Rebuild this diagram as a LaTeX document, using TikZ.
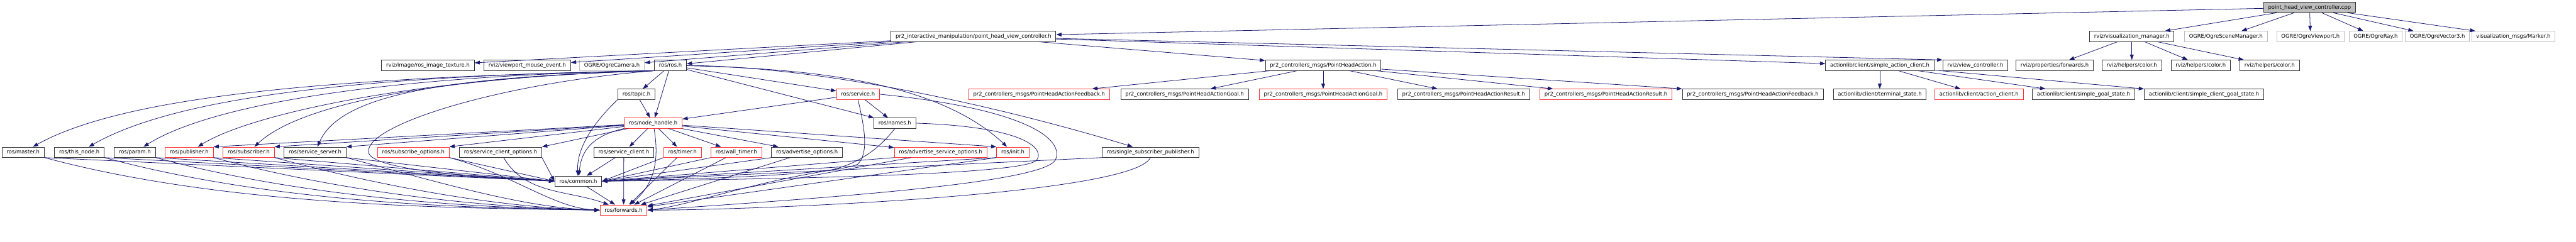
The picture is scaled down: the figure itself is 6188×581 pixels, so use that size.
\documentclass[tikz,border=0pt]{standalone}
\usepackage{fontspec}
\setmainfont{DejaVu Sans}
\usepackage{xcolor}
\usepackage{tikz}
\usetikzlibrary{arrows.meta}
\definecolor{EdgeC}{HTML}{191970}
\definecolor{BoxK}{HTML}{333333}
\definecolor{BoxR}{HTML}{FF3333}
\definecolor{BoxG}{HTML}{BFBFBF}

\begin{document}
\begin{tikzpicture}[x=1pt,y=1pt,font=\fontsize{12.7}{15}\selectfont,
  hd/.style={draw=BoxK,line width=1.5pt,fill=white,minimum height=24.5pt,
             inner xsep=11pt,inner ysep=0pt,text height=10.5pt,text depth=2pt},
  hdr/.style={hd,draw=BoxR},
  hdg/.style={hd,draw=BoxG},
  dep/.style={draw=EdgeC,line width=1.2pt,-{Triangle[length=12.7pt,width=9pt]}}]

\fill[white] (0,0) rectangle (6188,-581);
\useasboundingbox (0,0) rectangle (6188,-581);

% the source file
\node[hd,fill=BoxG] (root) at (5548,-17.8) {point\_head\_view\_controller.cpp};

% first level
\node[hd]  (pih)    at (2338.5,-87.5) {pr2\_interactive\_manipulation/point\_head\_view\_controller.h};
\node[hd]  (vman)   at (5121,-87.5)   {rviz/visualization\_manager.h};
\node[hdg] (oscene) at (5347,-87.5)   {OGRE/OgreSceneManager.h};
\node[hdg] (oview)  at (5550,-87.5)   {OGRE/OgreViewport.h};
\node[hdg] (oray)   at (5706.5,-87.5) {OGRE/OgreRay.h};
\node[hdg] (ovec)   at (5855,-87.5)   {OGRE/OgreVector3.h};
\node[hdg] (marker) at (6037.5,-87.5) {visualization\_msgs/Marker.h};

% second level
\node[hd]  (rit)  at (1028,-157)   {rviz/image/ros\_image\_texture.h};
\node[hd]  (vme)  at (1266.5,-157) {rviz/viewport\_mouse\_event.h};
\node[hdg] (ocam) at (1470,-157)   {OGRE/OgreCamera.h};
\node[hd]  (ros)  at (1610.5,-157) {ros/ros.h};
\node[hd]  (pha)  at (3178.5,-157) {pr2\_controllers\_msgs/PointHeadAction.h};
\node[hd]  (sac)  at (4515.5,-157) {actionlib/client/simple\_action\_client.h};
\node[hd]  (vc)   at (4745,-157)   {rviz/view\_controller.h};
\node[hd]  (pfw)  at (4935.5,-157) {rviz/properties/forwards.h};
\node[hd]  (colA) at (5121,-157)   {rviz/helpers/color.h};
\node[hd]  (colB) at (5286.5,-157) {rviz/helpers/color.h};
\node[hd]  (colC) at (5452,-157)   {rviz/helpers/color.h};

% third level
\node[hd]  (topic) at (1529,-226.5)   {ros/topic.h};
\node[hdr] (srv)   at (2061,-226.5)   {ros/service.h};
\node[hdr] (fbR)   at (2496,-226.5)   {pr2\_controllers\_msgs/PointHeadActionFeedback.h};
\node[hd]  (goalB) at (2845.5,-226.5) {pr2\_controllers\_msgs/PointHeadActionGoal.h};
\node[hdr] (goalR) at (3178.5,-226.5) {pr2\_controllers\_msgs/PointHeadActionGoal.h};
\node[hd]  (resB)  at (3516,-226.5)   {pr2\_controllers\_msgs/PointHeadActionResult.h};
\node[hdr] (resR)  at (3857.5,-226.5) {pr2\_controllers\_msgs/PointHeadActionResult.h};
\node[hd]  (fbB)   at (4210.5,-226.5) {pr2\_controllers\_msgs/PointHeadActionFeedback.h};
\node[hd]  (term)  at (4515.5,-226.5) {actionlib/client/terminal\_state.h};
\node[hdr] (acl)   at (4754,-226.5)   {actionlib/client/action\_client.h};
\node[hd]  (sgs)   at (5005,-226.5)   {actionlib/client/simple\_goal\_state.h};
\node[hd]  (scgs)  at (5294.5,-226.5) {actionlib/client/simple\_client\_goal\_state.h};

\node[hdr] (nh)    at (1569,-296)   {ros/node\_handle.h};
\node[hd]  (names) at (2149.5,-296) {ros/names.h};

% roscpp headers
\node[hd]  (master) at (55.5,-365.8)   {ros/master.h};
\node[hd]  (thisn)  at (190.5,-365.8)  {ros/this\_node.h};
\node[hd]  (param)  at (324,-365.8)    {ros/param.h};
\node[hdr] (pub)    at (454.5,-365.8)  {ros/publisher.h};
\node[hdr] (sub)    at (597.5,-365.8)  {ros/subscriber.h};
\node[hd]  (ssrv)   at (757,-365.8)    {ros/service\_server.h};
\node[hdr] (subopt) at (993,-365.8)    {ros/subscribe\_options.h};
\node[hd]  (sco)    at (1202.5,-365.8) {ros/service\_client\_options.h};
\node[hd]  (sc)     at (1498.5,-365.8) {ros/service\_client.h};
\node[hdr] (timer)  at (1639.5,-365.8) {ros/timer.h};
\node[hdr] (wtimer) at (1769,-365.8)   {ros/wall\_timer.h};
\node[hd]  (advopt) at (1938.5,-365.8) {ros/advertise\_options.h};
\node[hdr] (asopt)  at (2259.5,-365.8) {ros/advertise\_service\_options.h};
\node[hdr] (init)   at (2433,-365.8)   {ros/init.h};
\node[hd]  (ssp)    at (2763.5,-365.8) {ros/single\_subscriber\_publisher.h};

\node[hd]  (common) at (1389,-435.5) {ros/common.h};
\node[hdr] (fwd)    at (1498,-505)   {ros/forwards.h};

% upper part
\foreach \x in {pih,vman,oscene,oview,oray,ovec,marker} \draw[dep] (root) -- (\x);
\foreach \x in {pfw,colA,colB,colC} \draw[dep] (vman) -- (\x);
\foreach \x in {rit,vme,ocam,ros,pha,sac} \draw[dep] (pih) -- (\x);
\draw[dep] (pih) -- (vc.north west);
\foreach \x in {fbR,goalB,goalR,resB,resR} \draw[dep] (pha) -- (\x);
\draw[dep] (pha) -- (fbB.north west);
\foreach \x in {term,acl,sgs,scgs} \draw[dep] (sac) -- (\x);

% ros/ros.h
\draw[dep] (ros.south west) .. controls (800,-185) and (300,-230) .. (master);
\draw[dep] (ros.south west) .. controls (850,-182) and (420,-235) .. (thisn);
\draw[dep] (ros.south west) .. controls (900,-182) and (500,-255) .. (param);
\draw[dep] (ros.south west) .. controls (1000,-185) and (600,-275) .. (pub);
\draw[dep] (ros.south west) .. controls (1050,-185) and (720,-250) .. (sub);
\draw[dep] (ros.south west) .. controls (1100,-185) and (820,-220) .. (ssrv);
\foreach \x in {topic,nh,srv,names} \draw[dep] (ros) -- (\x);
\draw[dep] (ros) .. controls (1950,-165) and (2250,-195) .. (init);
\draw[dep] (ros) .. controls (2000,-160) and (2450,-270) .. (ssp);
\draw[dep] (ros.south west) .. controls (1200,-200) and (880,-300) .. (885,-365)
  .. controls (890,-410) and (1150,-425) .. (common.west);

% topic, service, names
\draw[dep] (topic) -- (nh);
\draw[dep] (topic.south west) .. controls (1420,-300) and (1385,-360) .. (common);
\draw[dep] (srv) -- (nh);
\draw[dep] (srv) -- (names);
\draw[dep] (srv.south) .. controls (2080,-320) and (2085,-370) .. (2060,-395)
  .. controls (2000,-420) and (1700,-430) .. (common.east);
\draw[dep] (srv.east) .. controls (2450,-260) and (2560,-330) .. (2535,-385)
  .. controls (2500,-440) and (2000,-475) .. (fwd.east);
\draw[dep] (names.east) .. controls (2470,-305) and (2510,-360) .. (2490,-385)
  .. controls (2460,-420) and (1900,-430) .. (common.east);
\draw[dep] (names.south) .. controls (2110,-360) and (2060,-395) .. (1990,-410)
  .. controls (1800,-440) and (1650,-495) .. (fwd.east);

% ros/node_handle.h
\foreach \x in {pub,sub,ssrv,subopt,sco} \draw[dep] (nh) -- (\x.north east);
\foreach \x in {sc,timer,wtimer,advopt,asopt} \draw[dep] (nh) -- (\x);
\draw[dep] (nh) -- (init.north west);
\draw[dep] (nh.south west) .. controls (1405,-330) and (1395,-380) .. (common);
\draw[dep] (nh) .. controls (1583,-380) and (1575,-440) .. (fwd);

% everything ends in common.h and forwards.h
\foreach \x in {master,thisn,param,pub,sub,ssrv,subopt,sco}
  \draw[dep] (\x.south east) -- (common.west);
\foreach \x/\a in {master/450,thisn/420,param/380,pub/340,sub/300,ssrv/250,subopt/160}
  \draw[dep] (\x.south east) .. controls +(\a,{-0.27*\a}) and +({-0.7*\a},5) .. (fwd.west);
\draw[dep] (sco) .. controls (1261,-468) and (1366,-457) .. (fwd);
\draw[dep] (sc) -- (common);
\foreach \x in {timer,wtimer,advopt,asopt,init,ssp} \draw[dep] (\x.south west) -- (common.east);
\foreach \x in {sc,timer,wtimer,advopt,asopt} \draw[dep] (\x) -- (fwd);
\draw[dep] (init.south west) -- (fwd);
\draw[dep] (ssp.south) .. controls (2720,-470) and (1800,-505) .. (fwd.east);
\draw[dep] (common) -- (fwd);

\end{tikzpicture}
\end{document}
